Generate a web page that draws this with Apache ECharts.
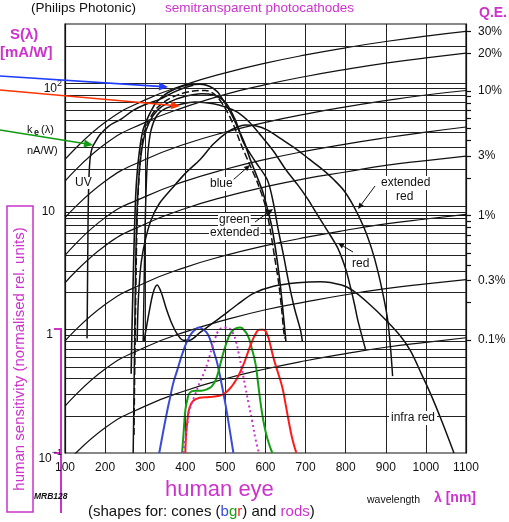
<!DOCTYPE html>
<html><head><meta charset="utf-8">
<script src="https://cdn.jsdelivr.net/npm/echarts@6/dist/echarts.min.js"></script>
<style>html,body{margin:0;padding:0;background:#fff}#c{width:509px;height:522px}</style>
</head><body><div id="c"></div>
<script>
// ---------- axes / ticks ----------
const wavelengthTicks = [100,200,300,400,500,600,700,800,900,1000,1100];
const sDecadeLabels = {'-1':'{b|10}{t|\u22121}', '0':'{o|1}', '1':'{p|10}', '2':'{b|10}{t|2}'};
const hGridValues = [0.2,0.3,0.4,0.5,0.6,0.7,0.8,0.9,1,2,3,4,5,6,7,8,9,10,20,30,40,50,60,70,80,90,100,200];
const qeLabelValues = [30,20,10,3,1,0.3,0.1];
const qeTickValues = [30,20,10,9,8,7,6,5,4,3,2,1,0.9,0.8,0.7,0.6,0.5,0.4,0.3,0.2,0.1];

// ---------- constant quantum-efficiency lines (S in mA/W at wavelengths) ----------
const qeLineLambda = [100,200,300,400,500,600,700,800,900,1000,1100];
const qe30 = [24,48,73,97,121,145,169,193,217,240,262];
const qe20 = [16,32,48,64,81,97,113,129,145,160,175];
const qe10 = [8.1,16,24,32,40,48,56,64,72,80,87];
const qe5  = [4.0,8.1,12,16,20,24,28,32,36,40,44];
const qe3  = [2.4,4.8,7.2,9.6,12,14.4,16.8,19,21.5,23.5,25.5];
const qe1  = [0.81,1.6,2.4,3.2,4.0,4.8,5.6,6.4,7.2,7.9,8.6];
const qe03 = [0.24,0.48,0.72,0.96,1.2,1.45,1.68,1.92,2.15,2.35,2.55];
const qe01 = [0.081,0.16,0.24,0.32,0.40,0.48,0.56,0.64,0.72,0.79,0.86];

// ---------- photocathode sensitivities [lambda nm, S mA/W] ----------
const uvCurve = [[155,0.85],[156,2],[157,5],[158,10],[160,18],[163,25],[168,30],[175,33],[187,38],[210,45],[240,51],[270,60],[300,67],[337,74],[370,84],[400,92],[420,96]];
const blueCurve = [[265,0.44],[267,1],[270,2.5],[273,6],[277,13.5],[282,22],[288,32],[295,42],[305,51],[312,57],[325,68],[340,76],[355,83],[370,88],[387,93],[410,97],[437,98],[460,94],[480,85],[495,72],[515,56],[530,44],[547,33],[562,24],[577,18],[592,13.5],[605,9.5],[615,7],[625,4.5],[635,2.6],[642,1.6],[648,1.0],[651,0.8]];
const greenExtCurve = [[272,0.14],[274,0.5],[276,1.5],[278,4],[280,8],[283,14],[287,22],[292,32],[300,42],[312,52],[330,63],[355,73],[385,81],[420,86],[450,87],[475,80],[500,62],[520,46],[537,33],[560,22],[582,15],[600,10],[612,6.4],[622,4],[632,2.5],[640,1.5],[645,1.0],[648,0.85]];
const innerCurve = [[270,0.1],[272,0.3],[274,1],[276,3],[279,8],[283,15],[289,25],[297,36],[310,48],[330,60],[360,70],[400,78],[440,82],[470,80],[500,70],[525,50],[545,33],[575,23],[605,16.3],[620,10.5],[632,6.4],[645,4],[657,2.5],[672,1.5],[687,1.0],[692,0.8]];
const redCurve = [[295,0.8],[297,2],[299,5],[301,10],[303,16],[305,22],[308,30],[315,42],[330,55],[350,62],[387,67],[425,70],[470,68],[500,64],[530,58],[560,48],[590,37],[620,28],[650,20],[680,15],[705,11.5],[730,8.5],[755,6.3],[780,4.6],[800,3.1],[812,2.2],[822,1.6],[830,1.2],[840,0.9],[850,0.68]];
const extRedCurve = [[280,0.8],[282,1.5],[285,2.3],[290,3.5],[300,5.3],[315,7.8],[335,10.5],[367,14],[400,18.5],[437,24],[470,32],[505,40],[530,44],[550,45.6],[575,45],[605,41.5],[640,35],[680,28.6],[710,24],[745,19.6],[770,16.5],[795,13.5],[820,10],[845,6.8],[865,4.5],[880,3.0],[895,1.8],[905,1.18],[912,0.7],[917,0.42]];
const infraRedCurve = [[297,0.8],[310,1.4],[320,2.0],[330,2.3],[340,2.0],[352,1.5],[365,1.15],[380,0.92],[395,0.82],[410,0.82],[437,0.95],[487,1.25],[530,1.6],[570,1.97],[620,2.25],[680,2.4],[737,2.45],[790,2.3],[820,2.05],[860,1.6],[900,1.2],[935,0.9],[962,0.67],[990,0.43],[1012,0.3],[1040,0.18],[1070,0.1]];

// ---------- human eye (normalised) ----------
const coneBlue = [[335,0.1],[345,0.15],[355,0.22],[362,0.28],[370,0.37],[380,0.47],[387,0.56],[395,0.67],[405,0.81],[415,0.93],[425,1.0],[435,1.04],[445,1.0],[455,0.93],[465,0.78],[472,0.65],[480,0.53],[490,0.37],[500,0.25],[510,0.16],[520,0.1]];
const coneGreen = [[392,0.1],[396,0.15],[400,0.22],[405,0.27],[412,0.31],[425,0.32],[440,0.32],[455,0.33],[467,0.35],[477,0.4],[487,0.52],[495,0.65],[505,0.82],[515,0.96],[527,1.03],[537,1.04],[548,0.98],[557,0.88],[565,0.72],[575,0.53],[581,0.38],[587,0.265],[595,0.18],[605,0.13],[617,0.1]];
const coneRed = [[400,0.1],[402,0.14],[405,0.18],[410,0.23],[420,0.265],[435,0.28],[460,0.285],[480,0.29],[495,0.3],[510,0.33],[522,0.37],[532,0.42],[545,0.52],[555,0.64],[565,0.78],[575,0.92],[585,1.0],[595,1.0],[605,0.9],[612,0.75],[620,0.59],[630,0.46],[642,0.34],[650,0.25],[658,0.18],[667,0.13],[677,0.1]];
const rods = [[395,0.1],[400,0.13],[405,0.17],[412,0.23],[425,0.3],[437,0.38],[447,0.45],[455,0.53],[467,0.72],[475,0.86],[482,0.97],[492,1.03],[502,1.04],[512,1.01],[520,0.92],[527,0.79],[532,0.67],[540,0.5],[550,0.34],[558,0.25],[567,0.18],[575,0.13],[584,0.1]];

const MAG = '#cc33cc';
const FONT = '"Liberation Sans", Arial, sans-serif';

function zip(xs, ys){ return xs.map((x,i)=>[x, ys[i]]); }
function line(data, extra){
  return Object.assign({type:'line', data:data, showSymbol:false, symbol:'none', smooth:0.3,
    clip:true, silent:true, animation:false, yAxisIndex:0,
    lineStyle:{color:'#111', width:1.3}}, extra||{});
}

const qeSeries = [qe30,qe20,qe10,qe5,qe3,qe1,qe03,qe01].map(a => line(zip(qeLineLambda,a), {smooth:0.5, lineStyle:{color:'#111', width:1.2}}));
qeSeries[0].markLine = {silent:true, symbol:['none','none'], label:{show:false}, animation:false,
  lineStyle:{color:'#222', width:1, type:'solid'}, emphasis:{disabled:true},
  data: hGridValues.map(v=>({yAxis:v}))};

const series = qeSeries.concat([
  line(uvCurve, {lineStyle:{color:'#111', width:1.5}}),
  line(blueCurve, {lineStyle:{color:'#111', width:1.6}}),
  line(greenExtCurve, {lineStyle:{color:'#111', width:1.5, type:[7,3]}}),
  line(innerCurve, {lineStyle:{color:'#111', width:1.5}}),
  line(redCurve, {lineStyle:{color:'#111', width:1.5}}),
  line(extRedCurve, {lineStyle:{color:'#111', width:1.5}}),
  line(infraRedCurve, {lineStyle:{color:'#111', width:1.5}}),
  line(coneBlue, {smooth:0.5, lineStyle:{color:'#3a4bd6', width:2}}),
  line(coneGreen, {smooth:0.5, lineStyle:{color:'#12a012', width:2}}),
  line(coneRed, {smooth:0.5, lineStyle:{color:'#ff1a1a', width:2}}),
  line(rods, {smooth:0.5, lineStyle:{color:MAG, width:2, type:[2,3]}})
]);

function arrow(x1,y1,x2,y2,color,w,h){
  const a = Math.atan2(y2-y1, x2-x1), L = h, W = h*0.45;
  const bx = x2 - L*Math.cos(a), by = y2 - L*Math.sin(a);
  return [
    {type:'line', silent:true, z:50, shape:{x1:x1,y1:y1,x2:bx,y2:by}, style:{stroke:color, lineWidth:w}},
    {type:'polygon', silent:true, z:50, shape:{points:[[x2,y2],[bx - W*Math.sin(a), by + W*Math.cos(a)],[bx + W*Math.sin(a), by - W*Math.cos(a)]]}, style:{fill:color}}
  ];
}
function txt(t, x, y, font, color, extra){
  return {type:'text', silent:true, z:60, style:Object.assign({text:t, x:x, y:y, font:font, fill:color||'#111', align:'left', verticalAlign:'middle'}, (extra||{}))};
}

const f12 = '12px ' + FONT;
const graphics = [].concat(
  [txt('(Philips Photonic)', 31, 8, '13.5px '+FONT, '#111'),
   txt('semitransparent photocathodes', 165, 8, '13.5px '+FONT, MAG),
   txt('S(\u03bb)', 10, 35, 'bold 15px '+FONT, MAG),
   txt('[mA/W]', 0, 53, 'bold 15px '+FONT, MAG),
   txt('Q.E.', 479, 13, 'bold 14px '+FONT, MAG),
   txt('k', 27, 130, '11px '+FONT, '#111'),
   txt('e', 34, 133, 'bold 9px '+FONT, '#111'),
   txt('(\u03bb)', 41, 130, '11px '+FONT, '#111'),
   txt('nA/W)', 27, 151, '11px '+FONT, '#111'),
   txt('UV', 75, 183, f12, '#111', {backgroundColor:'#fff'}),
   txt('blue', 209, 184, f12, '#111', {backgroundColor:'#fff', padding:[1,1]}),
   txt('green', 218, 220, f12, '#111', {backgroundColor:'#fff', padding:[1,1]}),
   txt('extended', 209, 233, f12, '#111', {backgroundColor:'#fff', padding:[1,1]}),
   txt('extended', 380, 183, f12, '#111', {backgroundColor:'#fff', padding:[1,1]}),
   txt('red', 395, 197, f12, '#111', {backgroundColor:'#fff', padding:[1,1]}),
   txt('red', 351, 264, f12, '#111', {backgroundColor:'#fff', padding:[1,1]}),
   txt('infra red', 389, 418, f12, '#111', {backgroundColor:'#fff', padding:[1,2]}),
   txt('human eye', 165, 490, '22px '+FONT, MAG),
   {type:'text', silent:true, z:60, style:{x:88, y:512, verticalAlign:'middle', align:'left',
     text:'{k|(shapes for: cones (}{b|b}{g|g}{r|r}{k|) and }{m|rods}{k|)}',
     rich:{k:{fill:'#111', font:'15px '+FONT}, b:{fill:'#3a4bd6', font:'15px '+FONT}, g:{fill:'#12a012', font:'15px '+FONT}, r:{fill:'#ff1a1a', font:'15px '+FONT}, m:{fill:MAG, font:'15px '+FONT}}}},
   txt('wavelength', 367, 500, '10.5px '+FONT, '#111'),
   txt('\u03bb [nm]', 434, 498, 'bold 14px '+FONT, MAG),
   txt('MRB128', 34, 497, 'italic bold 8.5px '+FONT, '#111'),
   {type:'rect', silent:true, z:0, shape:{x:7, y:206, width:26, height:306}, style:{fill:'none', stroke:MAG, lineWidth:1.5}},
   {type:'text', silent:true, z:60, x:20, y:359, rotation:Math.PI/2, style:{text:'human sensitivity (normalised rel. units)', x:0, y:0, align:'center', verticalAlign:'middle', font:'15px '+FONT, fill:MAG}},
   {type:'polyline', silent:true, z:0, shape:{points:[[54,329],[61,329],[61,513]]}, style:{stroke:MAG, lineWidth:2, fill:'none'}},
   {type:'line', silent:true, z:0, shape:{x1:54,y1:453,x2:61,y2:453}, style:{stroke:MAG, lineWidth:2}}
  ],
  arrow(0,76,168,87,'#1f3cff',1.6,9),
  arrow(0,90,180,106,'#ff3300',1.6,9),
  arrow(0,130,93,145,'#119911',1.6,9),
  arrow(233,180,250,165,'#111',1,6),
  arrow(255,222,273,209,'#111',1,6),
  arrow(375,186,358,209,'#111',1,6),
  arrow(353,252,338,243,'#111',1,6)
);

const chart = echarts.init(document.getElementById('c'), null, {renderer:'canvas'});
chart.setOption({
  animation:false,
  backgroundColor:'#fff',
  grid:{left:65, right:43, top:24, bottom:69, show:true, borderColor:'#111', borderWidth:1.2, backgroundColor:'transparent'},
  xAxis:{type:'value', min:100, max:1100, interval:100,
    axisLine:{show:true, lineStyle:{color:'#111', width:1.2}}, axisTick:{show:false},
    axisLabel:{color:'#111', fontSize:12, fontFamily:FONT, margin:9,
      customValues: wavelengthTicks, formatter:function(v){ return String(v); }},
    splitLine:{show:true, lineStyle:{color:'#222', width:1}}},
  yAxis:[
    {type:'log', logBase:10, min:0.1, max:301, z:5,
     axisLine:{show:true, lineStyle:{color:'#111', width:1.2}}, axisTick:{show:false}, splitLine:{show:false},
     axisLabel:{margin:3, color:'#111', fontFamily:FONT, padding:[7,0,0,0], showMinLabel:true,
       formatter:function(v){
         const lg = Math.log10(v), e = Math.round(lg);
         if (Math.abs(lg - e) > 1e-6) return '';
         return sDecadeLabels[String(e)] || '';
       },
       rich:{b:{fontSize:12, fontFamily:FONT, color:'#111', lineHeight:16, verticalAlign:'bottom'},
             p:{fontSize:12, fontFamily:FONT, color:'#111', lineHeight:16, verticalAlign:'bottom', padding:[0,7,0,0]},
             o:{fontSize:12, fontFamily:FONT, color:'#111', lineHeight:16, verticalAlign:'bottom', padding:[0,9,0,0]},
             t:{fontSize:9, fontFamily:FONT, color:'#111', lineHeight:16, verticalAlign:'top'}}}},
    {type:'value', position:'right', min:-1.908, max:1.538,
     axisLine:{show:true, lineStyle:{color:'#111', width:1.2}},
     axisTick:{show:true, length:5, inside:false, customValues: qeTickValues.map(v=>Math.log10(v)), lineStyle:{color:'#111', width:1.2}},
     axisLabel:{customValues: qeLabelValues.map(v=>Math.log10(v)), margin:12, color:'#111', fontSize:12, fontFamily:FONT,
       formatter:function(v){ return (+Math.pow(10,v).toPrecision(2)) + '%'; }},
     splitLine:{show:false}}
  ],
  series: series,
  graphic: graphics
});
</script></body></html>
